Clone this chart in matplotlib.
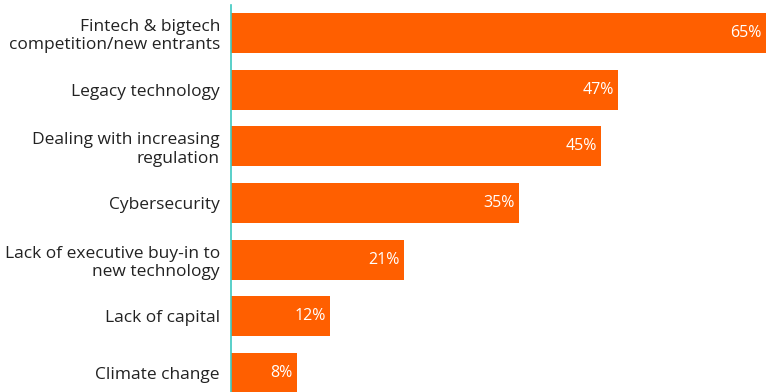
import matplotlib.pyplot as plt
import numpy as np

categories = ["Fintech & bigtech\ncompetition/new entrants", "Legacy technology",
              "Dealing with increasing\nregulation", "Cybersecurity",
              "Lack of executive buy-in to\nnew technology", "Lack of capital",
              "Climate change"]
values = [65, 47, 45, 35, 21, 12, 8]

plt.rcParams['font.family'] = ['Open Sans', 'DejaVu Sans']

fig = plt.figure(figsize=(7.66, 3.92), dpi=100)
ax = fig.add_axes([231 / 766, 0, 1 - 231 / 766, 1 - 5 / 392])

y = np.arange(len(categories))
ax.barh(y, values, height=0.706, color='#FF5F00')

for yi, v in zip(y, values):
    ax.annotate(f"{v}%", (v, yi), xytext=(-3, 0), textcoords='offset points',
                ha='right', va='center', color='white', fontsize=11.5)

ax.set_xlim(0, 65)
ax.set_ylim(6.335, -0.494)
ax.set_yticks(y, categories, fontsize=12.5, color='#222222', linespacing=1.2)
ax.tick_params(axis='y', length=0, pad=8)
ax.set_xticks([])
for s in ['top', 'right', 'bottom']:
    ax.spines[s].set_visible(False)
ax.spines['left'].set_color('#3CC8C0')
ax.spines['left'].set_linewidth(1.2)

fig.savefig('out.png', dpi=100)
